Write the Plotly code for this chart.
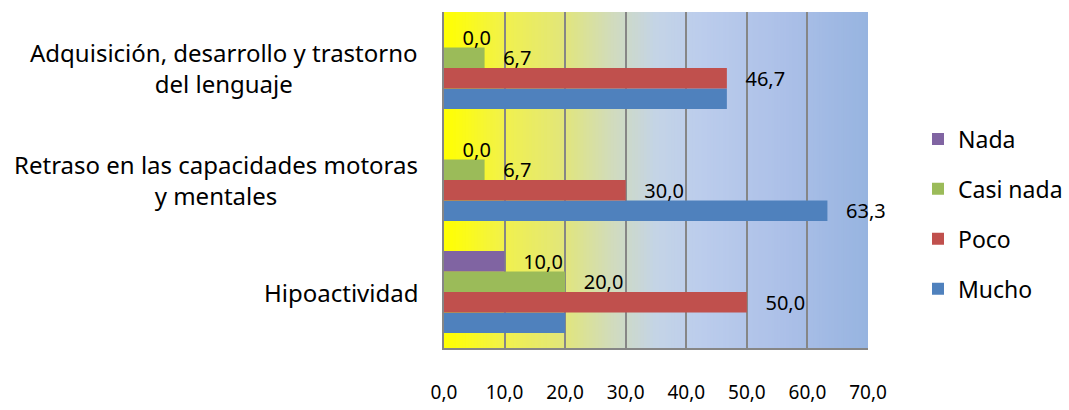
import numpy as np
import plotly.graph_objects as go

# Categories, bottom to top on the y axis
categories = [
    "Hipoactividad",
    "Retraso en las capacidades motoras<br>y mentales",
    "Adquisición, desarrollo y trastorno<br>del lenguaje",
]

# Percentages per response level (same order as categories)
nada = [10.0, 0.0, 0.0]
casi_nada = [20.0, 6.7, 6.7]
poco = [50.0, 30.0, 46.7]
mucho = [20.0, 63.3, 46.7]

# Which value labels are printed next to each bar
nada_labels = [True, True, True]
casi_nada_labels = [True, True, True]
poco_labels = [True, True, True]
mucho_labels = [False, True, False]

x_ticks = [0, 10, 20, 30, 40, 50, 60, 70]

FONT = "Noto Sans"
NBSP = "\u00a0"


def fmt(v):
    return f"{v:.1f}".replace(".", ",")


def label_texts(values, shown):
    return [NBSP * 3 + fmt(v) if s else "" for v, s in zip(values, shown)]


# Trace order puts Mucho at the bottom of each group; legendrank lists Nada first
series = [
    ("Mucho", mucho, mucho_labels, "#4F81BD", 4),
    ("Poco", poco, poco_labels, "#C0504D", 3),
    ("Casi nada", casi_nada, casi_nada_labels, "#9BBB59", 2),
    ("Nada", nada, nada_labels, "#8064A2", 1),
]

fig = go.Figure()
for name, vals, shown, color, rank in series:
    fig.add_trace(go.Bar(
        y=categories,
        x=vals,
        name=name,
        legendgroup=name,
        legendrank=rank,
        orientation="h",
        marker=dict(color=color, line=dict(width=0)),
        text=label_texts(vals, shown),
        textposition="outside",
        textfont=dict(family=FONT, size=20, color="#000000"),
        constraintext="none",
        cliponaxis=False,
        hoverinfo="skip",
    ))

# Horizontal yellow-to-blue gradient behind the plot area
stops = [
    (0.00, (255, 255, 0)),
    (0.04, (252, 252, 20)),
    (0.15, (240, 240, 80)),
    (0.28, (226, 230, 122)),
    (0.40, (208, 219, 190)),
    (0.50, (196, 212, 230)),
    (0.60, (188, 205, 236)),
    (0.80, (172, 192, 232)),
    (1.00, (151, 180, 224)),
]
pos = np.array([s[0] for s in stops])
rgb = np.array([s[1] for s in stops], dtype=float)
n_strips = 140
edges = np.linspace(0, 1, n_strips + 1)
shapes = []
for i in range(n_strips):
    mid = (edges[i] + edges[i + 1]) / 2
    c = [int(round(np.interp(mid, pos, rgb[:, k]))) for k in range(3)]
    shapes.append(dict(
        type="rect", xref="paper", yref="paper",
        x0=edges[i], x1=min(edges[i + 1] + 0.002, 1), y0=0, y1=1,
        fillcolor=f"rgb({c[0]},{c[1]},{c[2]})",
        line=dict(width=0), layer="below",
    ))

annotations = [
    dict(
        x=0, xref="paper", y=cat, yref="y",
        text=cat, showarrow=False,
        xanchor="right", yanchor="middle", align="center",
        xshift=-24,
        font=dict(family=FONT, size=24, color="#000000"),
    )
    for cat in categories
]

fig.update_layout(
    width=1069,
    height=410,
    margin=dict(l=444, r=201, t=12, b=62, autoexpand=False),
    paper_bgcolor="#FFFFFF",
    plot_bgcolor="rgba(0,0,0,0)",
    separators=",.",
    barmode="group",
    bargap=0.27,
    bargroupgap=0,
    shapes=shapes,
    annotations=annotations,
    font=dict(family=FONT, color="#000000"),
    legend=dict(
        xref="container", x=918 / 1069, xanchor="left",
        yref="container", y=(410 - 214) / 410, yanchor="middle",
        traceorder="grouped",
        tracegroupgap=17,
        font=dict(family=FONT, size=23, color="#000000"),
        bgcolor="rgba(0,0,0,0)",
    ),
    showlegend=True,
)

fig.update_xaxes(
    range=[0, 70],
    tickvals=x_ticks,
    tickformat=".1f",
    showgrid=True,
    gridcolor="#868686",
    gridwidth=2,
    zeroline=False,
    showline=True,
    linecolor="#868686",
    linewidth=2,
    ticks="",
    automargin=False,
    ticklabelstandoff=26,
    tickfont=dict(family=FONT, size=19, color="#000000"),
)
fig.update_yaxes(
    automargin=False,
    showticklabels=False,
    showgrid=False,
    zeroline=False,
    showline=True,
    linecolor="#868686",
    linewidth=2,
    ticks="",
)

fig.write_html("out.html")
